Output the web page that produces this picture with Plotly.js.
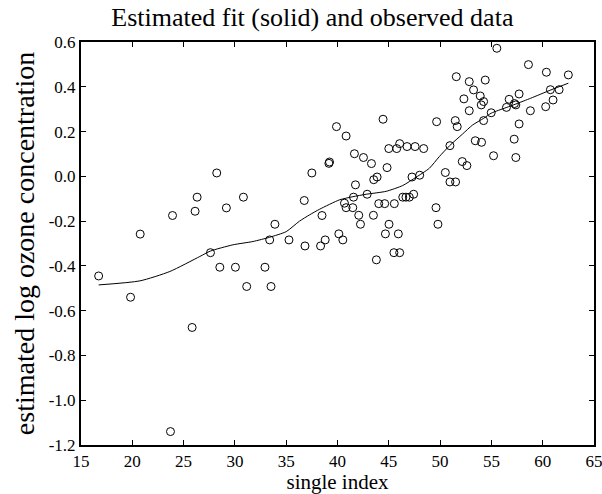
<!DOCTYPE html>
<html>
<head>
<meta charset="utf-8">
<script src="https://cdn.plot.ly/plotly-3.0.1.min.js"></script>
<style>html,body{margin:0;padding:0;background:#fff;}#chart{width:602px;height:494px;}</style>
</head>
<body>
<div id="chart"></div>
<script>
// observed data (single index, log ozone)
const obsX = [55.53,58.61,60.36,62.50,51.58,52.84,54.40,53.26,53.91,54.24,54.01,52.32,52.84,57.70,56.73,57.38,57.25,56.47,60.75,61.60,
  61.01,60.29,58.80,54.98,54.24,57.70,57.22,57.38,55.21,53.43,54.04,49.66,51.48,51.67,50.96,52.16,52.61,50.51,50.96,51.51,
  49.60,49.79,44.44,39.90,40.84,41.65,42.53,43.31,39.16,39.22,45.00,45.77,46.06,46.78,47.56,48.40,44.83,43.53,43.86,41.75,
  47.26,48.01,41.56,42.89,40.68,40.84,41.49,44.02,44.60,45.54,46.36,46.67,47.00,47.42,42.07,43.50,42.24,45.02,38.49,40.13,
  40.52,44.67,45.93,38.80,43.79,45.50,46.06,28.23,37.50,26.32,30.83,36.76,23.92,26.12,29.17,33.90,20.77,33.39,35.27,36.83,
  38.35,16.72,19.83,23.72,25.83,27.62,28.53,30.05,31.15,32.93,33.52];
const obsY = [0.572,0.499,0.465,0.453,0.445,0.423,0.430,0.386,0.359,0.334,0.319,0.346,0.293,0.368,0.344,0.319,0.325,0.308,0.387,0.387,
  0.341,0.311,0.293,0.284,0.249,0.234,0.166,0.084,0.092,0.159,0.152,0.244,0.249,0.222,0.137,0.066,0.048,0.017,-0.025,-0.025,
  -0.140,-0.214,0.255,0.222,0.180,0.101,0.084,0.057,0.058,0.064,0.124,0.124,0.146,0.133,0.133,0.124,0.039,-0.015,-0.003,-0.038,
  -0.003,0.005,-0.093,-0.080,-0.120,-0.140,-0.140,-0.122,-0.122,-0.122,-0.093,-0.093,-0.093,-0.080,-0.174,-0.174,-0.214,-0.214,-0.175,-0.257,
  -0.284,-0.257,-0.257,-0.284,-0.373,-0.341,-0.341,0.015,0.015,-0.093,-0.093,-0.108,-0.175,-0.156,-0.141,-0.214,-0.258,-0.284,-0.284,-0.311,
  -0.311,-0.445,-0.540,-1.140,-0.675,-0.341,-0.406,-0.406,-0.492,-0.406,-0.492];

// estimated fit (solid line)
const fitX = [16.72,20.74,23.66,26.58,27.60,29.80,31.77,33.39,35.00,36.30,37.28,38.25,40.20,41.50,42.80,44.74,46.36,47.66,48.95,49.92,
  50.93,52.19,53.16,54.24,54.98,56.44,57.38,58.84,60.80,62.50];
const fitY = [-0.485,-0.467,-0.425,-0.358,-0.334,-0.306,-0.291,-0.272,-0.247,-0.200,-0.172,-0.147,-0.105,-0.091,-0.080,-0.067,-0.041,-0.004,0.036,0.088,
  0.137,0.189,0.229,0.259,0.282,0.307,0.323,0.349,0.386,0.416];

const xTickVals = [15,20,25,30,35,40,45,50,55,60,65];
const xTickText = ['15','20','25','30','35','40','45','50','55','60','65'];
const yTickVals = [0.6,0.4,0.2,0.0,-0.2,-0.4,-0.6,-0.8,-1.0,-1.2];
const yTickText = ['0.6','0.4','0.2','0.0','-0.2','-0.4','-0.6','-0.8','-1.0','-1.2'];

const FONT = '"Liberation Serif", "DejaVu Serif", serif';

const traces = [
  {x: obsX, y: obsY, type: 'scatter', mode: 'markers',
   marker: {symbol: 'circle-open', size: 8, color: '#000', line: {width: 1, color: '#000'}},
   hoverinfo: 'skip', showlegend: false},
  {x: fitX, y: fitY, type: 'scatter', mode: 'lines',
   line: {color: '#000', width: 1, shape: 'spline', smoothing: 0.6},
   hoverinfo: 'skip', showlegend: false}
];

const axisCommon = {
  showgrid: false, zeroline: false, showline: true, linecolor: '#000', linewidth: 2,
  mirror: 'ticks', ticks: 'inside', ticklen: 5, tickwidth: 1, tickcolor: '#000',
  tickmode: 'array', automargin: false
};

const layout = {
  width: 602, height: 494,
  margin: {l: 81, r: 8, t: 42, b: 49, pad: 0},
  paper_bgcolor: '#fff', plot_bgcolor: '#fff',
  font: {family: FONT, color: '#000'},
  title: {text: 'Estimated fit (solid) and observed data', font: {family: FONT, size: 26, color: '#000'},
          x: 0.451, xref: 'paper', xanchor: 'center', y: 0.965, yref: 'container', yanchor: 'middle'},
  xaxis: Object.assign({}, axisCommon, {range: [15, 65], tickvals: xTickVals, ticktext: xTickText,
          tickfont: {family: FONT, size: 17, color: '#000'}, ticklabeloverflow: 'allow',
          title: {text: 'single index', font: {family: FONT, size: 21, color: '#000'}, standoff: 5}}),
  yaxis: Object.assign({}, axisCommon, {range: [-1.2, 0.6], tickvals: yTickVals, ticktext: yTickText,
          tickfont: {family: FONT, size: 17, color: '#000'},
          title: {text: 'estimated log ozone concentration', font: {family: FONT, size: 28, color: '#000'}, standoff: 6}})
};

Plotly.newPlot('chart', traces, layout, {staticPlot: true, displayModeBar: false});
</script>
</body>
</html>
